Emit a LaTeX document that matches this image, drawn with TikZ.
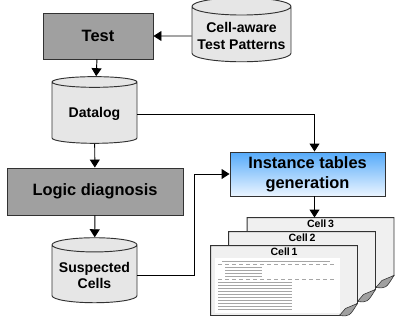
\documentclass[tikz,border=0pt]{standalone}
\usepackage{fontspec}
\setmainfont{Liberation Sans}
\usetikzlibrary{shapes.geometric,arrows.meta,calc}
\definecolor{xgray}{RGB}{160,160,160}
\definecolor{xlight}{RGB}{230,230,230}
\definecolor{xpage}{RGB}{240,240,240}
\definecolor{xblue}{RGB}{85,170,250}
\definecolor{xpale}{RGB}{235,245,255}
\definecolor{xline}{RGB}{50,50,50}

\begin{document}
\begin{tikzpicture}[x=0.03cm,y=0.03cm,>={Triangle[length=2.4mm,width=3mm]},line width=0.8pt]
\tikzset{proc/.style={rectangle,fill=xgray,draw=xline,font=\bfseries\fontsize{14}{16}\selectfont}}
\tikzset{store/.style={cylinder,shape border rotate=90,aspect=0.18,draw=xline,fill=xlight,align=center,font=\bfseries\fontsize{12}{14}\selectfont}}
\tikzset{gen/.style={rectangle,top color=xblue,bottom color=xpale,draw=xline,align=center,font=\bfseries\fontsize{14}{17}\selectfont}}
\tikzset{page/.style={rectangle,draw=none,inner sep=0pt,minimum width=4.38cm,minimum height=2.07cm}}
\useasboundingbox (0,0) rectangle (398,324);
\node[proc,minimum width=3.3cm,minimum height=1.38cm] (test) at (98,288) {Test};
\node[store,minimum width=2.97cm,minimum height=1.92cm] (pat) at (241.5,288) {Cell-aware\\Test Patterns};
\draw[->] (pat) -- (test);
\node[store,minimum width=2.55cm,minimum height=2.0cm] (dlog) at (94.5,210) {Datalog};
\draw[->] (test) -- (dlog);
\node[proc,minimum width=5.28cm,minimum height=1.41cm] (diag) at (95,132.5) {Logic diagnosis};
\draw[->] (dlog) -- (diag);
\node[store,minimum width=2.55cm,minimum height=1.95cm] (susp) at (94.5,48.5) {Suspected\\Cells};
\draw[->] (diag) -- (susp);
\node[gen,minimum width=4.65cm,minimum height=1.32cm] (inst) at (307.5,150) {Instance tables\\generation};
\draw[->] (dlog.east) -| ($(inst.north)+(7,0)$);
\draw[->] (susp.east) -- ++(57,0) |- (inst.west);
% instance tables, one page per cell
\foreach \i/\px/\py in {3/320.5/71.5,2/302/57.5,1/284/43.5} {
  \node[page] (page\i) at (\px,\py) {};
  \draw[fill=xpage,draw=xline] (page\i.north west) -- (page\i.north east) -- ($(page\i.south east)+(0,12)$)
    -- ($(page\i.south east)+(-18,0)$) -- (page\i.south west) -- cycle;
  \filldraw[fill=xgray,draw=xline,line width=0.5pt] ($(page\i.south east)+(-18,0)$) .. controls ($(page\i.south east)+(-8,-1)$) .. ($(page\i.south east)+(0,12)$)
    -- ($(page\i.south east)+(-12,7)$) -- cycle;
  \node[anchor=north,inner sep=1.5pt,font=\bfseries\fontsize{9}{10}\selectfont] (lab\i) at (page\i.north) {Cell\,\i};
}
\coordinate (out) at ($(inst.south)+(7,0)$);
\draw[->] (out) -- (out |- page3.north);
% table dump on the first page
\fill[white] (215,66) rectangle (340,11);
\begin{scope}[gray!70,line width=0.3pt]
\draw (222,63) -- (330,63);
\draw[dashed] (218,60) -- (336,60);
\foreach \y in {57,54,51,48} \draw (225,\y) -- (262,\y);
\draw[dashed] (218,45) -- (336,45);
\foreach \y in {42,39,36,33,30} \draw (218,\y) -- (292,\y);
\foreach \y in {27,24,21,18,15} \draw (218,\y) -- (292,\y);
\end{scope}
\end{tikzpicture}
\end{document}
